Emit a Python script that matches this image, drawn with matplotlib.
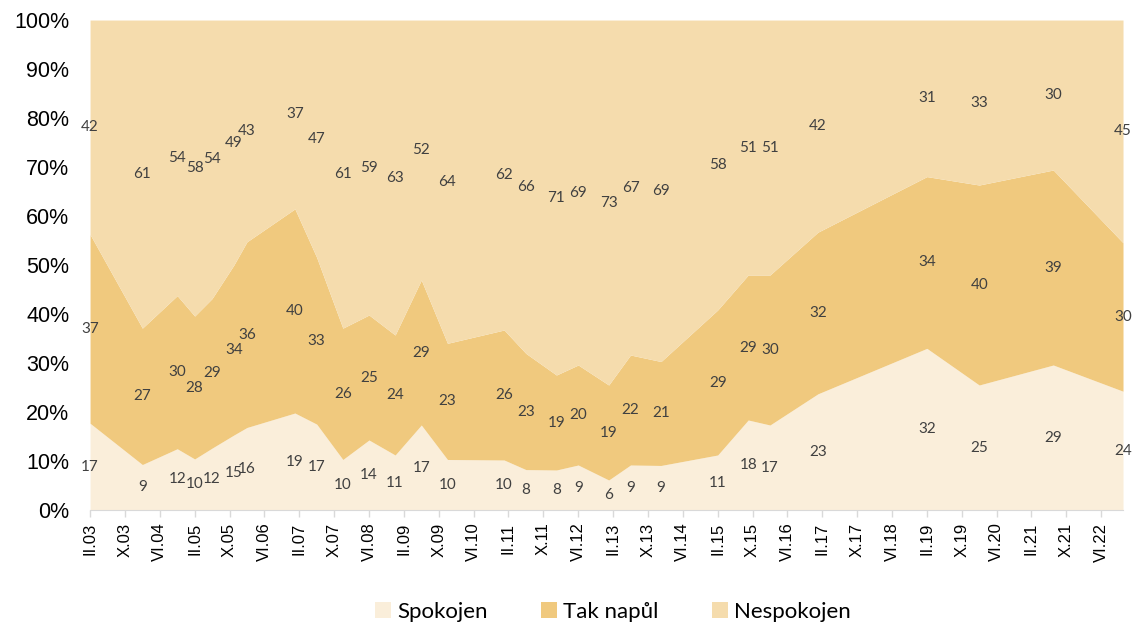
import numpy as np
import matplotlib.pyplot as plt

# survey dates (year-month) and shares in %
dates = ["2003-02", "2004-02", "2004-10", "2005-02", "2005-06", "2005-11", "2006-02",
         "2007-01", "2007-06", "2007-12", "2008-06", "2008-12", "2009-06", "2009-12",
         "2011-01", "2011-06", "2012-01", "2012-06", "2013-01", "2013-06", "2014-01",
         "2015-02", "2015-09", "2016-02", "2017-01", "2019-02", "2020-02", "2021-07",
         "2022-11"]
spokojen = [17, 9, 12, 10, 12, 15, 16, 19, 17, 10, 14, 11, 17, 10, 10, 8, 8, 9, 6, 9, 9,
            11, 18, 17, 23, 32, 25, 29, 24]
tak_napul = [37, 27, 30, 28, 29, 34, 36, 40, 33, 26, 25, 24, 29, 23, 26, 23, 19, 20, 19, 22,
             21, 29, 29, 30, 32, 34, 40, 39, 30]
nespokojen = [42, 61, 54, 58, 54, 49, 43, 37, 47, 61, 59, 63, 52, 64, 62, 66, 71, 69, 73, 67,
              69, 58, 51, 51, 42, 31, 33, 30, 45]

tick_labels = ["II.03", "X.03", "VI.04", "II.05", "X.05", "VI.06", "II.07", "X.07", "VI.08",
               "II.09", "X.09", "VI.10", "II.11", "X.11", "VI.12", "II.13", "X.13", "VI.14",
               "II.15", "X.15", "VI.16", "II.17", "X.17", "VI.18", "II.19", "X.19", "VI.20",
               "II.21", "X.21", "VI.22"]

series_names = ["Spokojen", "Tak napůl", "Nespokojen"]
colors = ["#FAEEDA", "#F0C97E", "#F5DCAD"]

# months since Feb 2003
x = np.array([(int(d[:4]) - 2003) * 12 + int(d[5:]) - 2 for d in dates])
vals = np.array([spokojen, tak_napul, nespokojen], dtype=float)
pct = vals / vals.sum(axis=0) * 100
cum = np.cumsum(pct, axis=0)
base = np.vstack([np.zeros(len(x)), cum[:-1]])

fig = plt.figure(figsize=(11.37, 6.26), dpi=100)
ax = fig.add_axes([0.0792, 0.1853, 0.9085, 0.7827])

for i in range(3):
    ax.fill_between(x, base[i], cum[i], color=colors[i], linewidth=0, label=series_names[i])

# data labels centred in each band
for i in range(3):
    mid = (base[i] + cum[i]) / 2
    for xi, yi, v in zip(x, mid, vals[i]):
        ax.text(xi, yi, f"{int(v)}", ha="center", va="center", fontsize=11,
                color="#404040", family="Lato", clip_on=False)

ax.set_xlim(0, x[-1])
ax.set_ylim(0, 100)
ax.set_yticks(np.arange(0, 101, 10))
ax.set_yticklabels([f"{v}%" for v in range(0, 101, 10)], fontsize=15.5, family="Liberation Sans")
ax.tick_params(axis="y", length=0, pad=15)

xt = np.arange(len(tick_labels)) * 8
ax.set_xticks(xt)
ax.set_xticklabels(tick_labels, rotation=90, fontsize=12, family="Liberation Sans")
ax.tick_params(axis="x", length=5, color="#D9D9D9", width=1, pad=4)

for s in ["top", "right", "left"]:
    ax.spines[s].set_visible(False)
ax.spines["bottom"].set_color("#D9D9D9")

fig.legend(loc="center", bbox_to_anchor=(613 / 1137, 14 / 626), ncol=3, frameon=False,
           prop={"family": "Lato", "size": 16}, handlelength=0.7, handleheight=0.7,
           columnspacing=2.4, handletextpad=0.3)

fig.savefig("out.png", dpi=100)
